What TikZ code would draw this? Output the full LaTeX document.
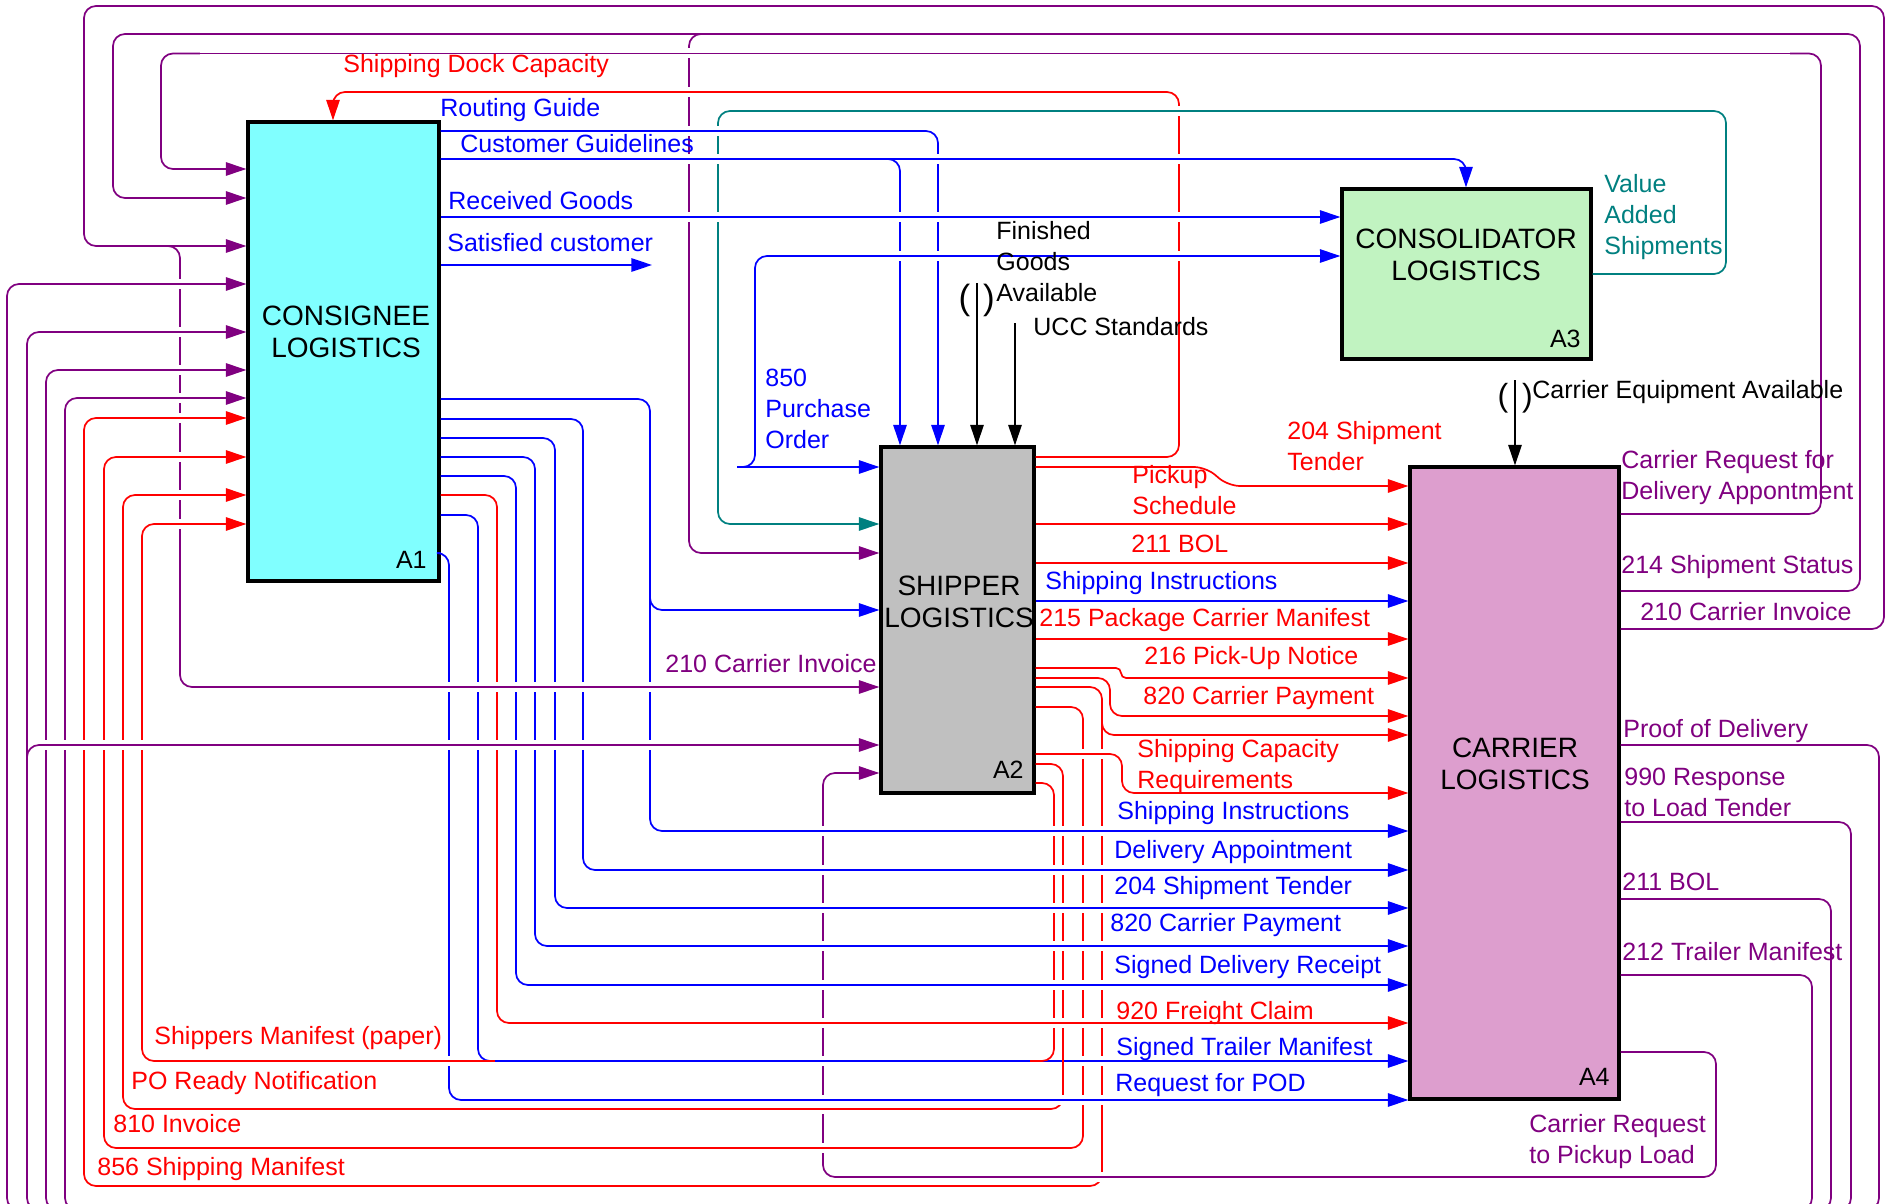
\documentclass[tikz,border=0pt]{standalone}
\usepackage{fontspec}
\setmainfont{Liberation Sans}
\usetikzlibrary{arrows.meta}
\definecolor{ipurple}{RGB}{128,0,128}
\definecolor{iblue}{RGB}{0,0,255}
\definecolor{ired}{RGB}{255,0,0}
\definecolor{iteal}{RGB}{0,128,128}
\definecolor{fillA}{RGB}{128,255,255}
\definecolor{fillB}{RGB}{192,192,192}
\definecolor{fillC}{RGB}{193,243,193}
\definecolor{fillD}{RGB}{221,158,206}
\newcommand\idefcut[4]{\draw[white,line width=5pt] (#2,#1) -- (#3,#1); \draw[#4] (#2,#1) -- (#3,#1);}
\tikzset{
  conn/.style={line width=0.85pt, rounded corners=6pt},
  tip/.style={-{Triangle[length=10.3pt,width=6.7pt]}},
  pu/.style={conn, draw=ipurple},
  bl/.style={conn, draw=iblue},
  rd/.style={conn, draw=ired},
  tl/.style={conn, draw=iteal},
  bk/.style={conn, draw=black},
  box/.style={draw=black, line width=1.6pt, inner sep=0pt},
  lbl/.style={font=\fontsize{12.5}{15.3}\selectfont, inner sep=0pt, anchor=base west, align=left},
  boxlbl/.style={font=\fontsize{14}{16}\selectfont, inner sep=0pt, anchor=base, align=center},
  boxnum/.style={font=\fontsize{12.5}{15}\selectfont, inner sep=0pt, anchor=base east},
  bigpar/.style={inner sep=0pt, anchor=base}
}
\begin{document}
\begin{tikzpicture}[x=0.5pt,y=-0.5pt]
\path[use as bounding box, fill=white] (0,0) rectangle (1886,1204);

% boxes
\node[box, fill=fillA, minimum width=95.5pt, minimum height=229.5pt] (A1) at (343.5,351.5) {};
\node[box, fill=fillB, minimum width=76.5pt, minimum height=173pt] (A2) at (957.5,620) {};
\node[box, fill=fillC, minimum width=124.5pt, minimum height=85pt] (A3) at (1466.5,274) {};
\node[box, fill=fillD, minimum width=104.5pt, minimum height=316pt] (A4) at (1514.5,783) {};

% purple feedback arrows
\draw[pu,tip] (A4.east |- 0,514) -| (1821,53.5) -| (161,169) -- (A1.west |- 0,169);
\draw[pu,tip] (A4.east |- 0,591) -| (1860,34) -| (113,198) -- (A1.west |- 0,198);
\draw[pu,tip] (720,34) -| (689,553) -- (A2.west |- 0,553);
\draw[pu,tip] (A4.east |- 0,629) -| (1884,6) -| (84,246) -- (A1.west |- 0,246);
\draw[pu,tip] (160,246) -| (180,687) -- (A2.west |- 0,687);
\draw[pu,tip] (A4.east |- 0,1052) -| (1716,1177) -| (823,773) -- (A2.west |- 0,773);
\draw[pu,tip] (A4.east |- 0,745) -| (1879,1210) -| (7,284) -- (A1.west |- 0,284);
\draw[pu,tip] (A4.east |- 0,822) -| (1851,1210) -| (27,332) -- (A1.west |- 0,332);
\draw[pu,tip] (27,775) |- (A2.west |- 0,745);
\draw[pu,tip] (A4.east |- 0,899) -| (1831,1210) -| (46,370) -- (A1.west |- 0,370);
\draw[pu,tip] (A4.east |- 0,975) -| (1812,1210) -| (65,398) -- (A1.west |- 0,398);

% blue from A1
\draw[bl,tip] (A1.east |- 0,131) -| (A2.north -| 938,0);
\draw[bl,tip] (A1.east |- 0,159) -| (A3.north -| 1466,0);
\draw[bl,tip] (880,159) -| (A2.north -| 900,0);
\draw[bl,tip] (A1.east |- 0,217) -- (A3.west |- 0,217);
\coordinate (satEnd) at (652,265);
\draw[bl,tip] (A1.east |- 0,265) -- (satEnd);
\coordinate (po) at (737,467);
\draw[bl,tip] (po) -- (A2.west |- 0,467);
\draw[bl,tip] (po) -| (755,256) -- (A3.west |- 0,256);
\draw[bl,tip] (A1.east |- 0,399) -| (650,831) -- (A4.west |- 0,831);
\draw[bl,tip] (650,590) |- (A2.west |- 0,610);
\draw[bl,tip] (A1.east |- 0,419) -| (583,870) -- (A4.west |- 0,870);
\draw[bl,tip] (A1.east |- 0,438) -| (555,908) -- (A4.west |- 0,908);
\draw[bl,tip] (A1.east |- 0,457) -| (535,946) -- (A4.west |- 0,946);
\draw[bl,tip] (A1.east |- 0,476) -| (516,985) -- (A4.west |- 0,985);
\draw[rd,tip] (A1.east |- 0,495) -| (497,1023) -- (A4.west |- 0,1023);
\draw[bl,tip] (A1.east |- 0,515) -| (478,1061) -- (A4.west |- 0,1061);
\draw[bl,tip] (A1.east |- 0,553) -| (449,1100) -- (A4.west |- 0,1100);

% red from A2
\draw[rd,tip] (A2.east |- 0,457) -| (1179,92) -| (A1.north -| 333,0);
\draw[rd,tip] (A2.east |- 0,467) -- (1206,467) -- (1228,486) -- (A4.west |- 0,486);
\draw[rd,tip] (A2.east |- 0,524) -- (A4.west |- 0,524);
\draw[rd,tip] (A2.east |- 0,563) -- (A4.west |- 0,563);
\draw[bl,tip] (A2.east |- 0,601) -- (A4.west |- 0,601);
\draw[rd,tip] (A2.east |- 0,639) -- (A4.west |- 0,639);
\draw[rd,tip,rounded corners=2.5pt] (A2.east |- 0,668) -| (1121,678) -- (A4.west |- 0,678);
\draw[rd,tip] (A2.east |- 0,678) -| (1110,716) -- (A4.west |- 0,716);
\draw[rd,tip] (A2.east |- 0,687) -| (1102,1186) -| (84,418) -- (A1.west |- 0,418);
\draw[rd,tip] (1102,715) |- (A4.west |- 0,735);
\draw[rd,tip] (A2.east |- 0,707) -| (1083,1148) -| (104,457) -- (A1.west |- 0,457);
\draw[rd,tip] (A2.east |- 0,754) -| (1122,793) -- (A4.west |- 0,793);
\draw[rd,tip] (A2.east |- 0,764) -| (1063,1109) -| (123,495) -- (A1.west |- 0,495);
\draw[rd,tip] (A2.east |- 0,783) -| (1054,1061) -| (142,524) -- (A1.west |- 0,524);

% teal
\draw[tl,tip] (A3.east |- 0,274) -| (1726,111) -| (718,524) -- (A2.west |- 0,524);

% black controls
\coordinate (fgaTop) at (977,283);
\draw[bk,tip] (fgaTop) -- (A2.north -| fgaTop);
\coordinate (uccTop) at (1015,323);
\draw[bk,tip] (uccTop) -- (A2.north -| uccTop);
\coordinate (ceaTop) at (1515,380);
\draw[bk,tip] (ceaTop) -- (A4.north -| ceaTop);

% crossing gaps
\idefcut{53.5}{200}{1790}{pu}
\idefcut{92}{360}{1160}{rd}
\idefcut{111}{740}{1705}{tl}
\idefcut{131}{450}{915}{bl}
\idefcut{159}{450}{880}{bl}
\idefcut{159}{915}{1445}{bl}
\idefcut{217}{450}{1320}{bl}
\idefcut{256}{775}{1320}{bl}
\idefcut{284}{168}{192}{pu}
\idefcut{332}{168}{192}{pu}
\idefcut{370}{168}{192}{pu}
\idefcut{398}{168}{192}{pu}
\idefcut{418}{168}{192}{rd}
\idefcut{457}{168}{192}{rd}
\idefcut{495}{168}{192}{rd}
\idefcut{524}{168}{192}{rd}
\idefcut{687}{200}{855}{pu}
\idefcut{745}{40}{855}{pu}
\idefcut{754}{1045}{1108}{rd}
\idefcut{831}{670}{1385}{bl}
\idefcut{870}{600}{1385}{bl}
\idefcut{908}{575}{1385}{bl}
\idefcut{946}{555}{1385}{bl}
\idefcut{985}{535}{1385}{bl}
\idefcut{1023}{515}{1385}{rd}
\idefcut{1061}{160}{466}{rd}
\idefcut{1061}{495}{1030}{bl}
\idefcut{1061}{1070}{1385}{bl}
\idefcut{1100}{470}{1385}{bl}
\idefcut{1109}{140}{1045}{rd}
\idefcut{1148}{120}{1065}{rd}
\idefcut{1177}{1090}{1115}{pu}

% box texts (anchor base = last line)
\node[boxlbl] (A1t) at (346,357) {CONSIGNEE\\LOGISTICS};
\node[boxlbl] (A2t) at (959,627) {SHIPPER\\LOGISTICS};
\node[boxlbl] (A3t) at (1466,280) {CONSOLIDATOR\\LOGISTICS};
\node[boxlbl] (A4t) at (1515,789) {CARRIER\\LOGISTICS};
\node[boxnum] (A1n) at (427,568) {A1};
\node[boxnum] (A2n) at (1024,778) {A2};
\node[boxnum] (A3n) at (1581,347) {A3};
\node[boxnum] (A4n) at (1610,1085) {A4};

% red labels
\node[lbl,text=ired] (lShipDock) at (343,73) {Shipping Dock Capacity};
\node[lbl,text=ired] (l204a) at (1287,470) {204 Shipment\\Tender};
\node[lbl,text=ired] (lPickup) at (1132,514) {Pickup\\Schedule};
\node[lbl,text=ired] (l211) at (1131,552) {211 BOL};
\node[lbl,text=ired] (l215) at (1039,626) {215 Package Carrier Manifest};
\node[lbl,text=ired] (l216) at (1144,664) {216 Pick-Up Notice};
\node[lbl,text=ired] (l820r) at (1143,704) {820 Carrier Payment};
\node[lbl,text=ired] (lShipCap) at (1137,788) {Shipping Capacity\\Requirements};
\node[lbl,text=ired] (l920) at (1116,1019) {920 Freight Claim};
\node[lbl,text=ired] (lShMan) at (154,1044) {Shippers Manifest (paper)};
\node[lbl,text=ired] (lPORdy) at (131,1089) {PO Ready Notification};
\node[lbl,text=ired] (l810) at (113,1132) {810 Invoice};
\node[lbl,text=ired] (l856) at (97,1175) {856 Shipping Manifest};

% blue labels
\node[lbl,text=iblue] (lRout) at (440,117) {Routing Guide};
\node[lbl,text=iblue] (lCust) at (460,153) {Customer Guidelines};
\node[lbl,text=iblue] (lRecv) at (448,209) {Received Goods};
\node[lbl,text=iblue] (lSat) at (447,251) {Satisfied customer};
\node[lbl,text=iblue] (l850) at (765,448) {850\\Purchase\\Order};
\node[lbl,text=iblue] (lShInA) at (1045,589) {Shipping Instructions};
\node[lbl,text=iblue] (lShInB) at (1117,819) {Shipping Instructions};
\node[lbl,text=iblue] (lDelAp) at (1114,858) {Delivery Appointment};
\node[lbl,text=iblue] (l204b) at (1114,894) {204 Shipment Tender};
\node[lbl,text=iblue] (l820b) at (1110,931) {820 Carrier Payment};
\node[lbl,text=iblue] (lSDR) at (1114,973) {Signed Delivery Receipt};
\node[lbl,text=iblue] (lSTM) at (1116,1055) {Signed Trailer Manifest};
\node[lbl,text=iblue] (lPOD) at (1115,1091) {Request for POD};

% purple labels
\node[lbl,text=ipurple] (l210a) at (665,672) {210 Carrier Invoice};
\node[lbl,text=ipurple] (lCRDA) at (1621,499) {Carrier Request for\\Delivery Appontment};
\node[lbl,text=ipurple] (l214) at (1621,573) {214 Shipment Status};
\node[lbl,text=ipurple] (l210b) at (1640,620) {210 Carrier Invoice};
\node[lbl,text=ipurple] (lPoD) at (1623,737) {Proof of Delivery};
\node[lbl,text=ipurple] (l990) at (1624,816) {990 Response\\to Load Tender};
\node[lbl,text=ipurple] (l211p) at (1622,890) {211 BOL};
\node[lbl,text=ipurple] (l212) at (1622,960) {212 Trailer Manifest};
\node[lbl,text=ipurple] (lCRPL) at (1529,1163) {Carrier Request\\to Pickup Load};

% teal label
\node[lbl,text=iteal] (lVAS) at (1604,254) {Value\\Added\\Shipments};

% black labels
\node[lbl] (lFGA) at (996,301) {Finished\\Goods\\Available};
\node[lbl] (lUCC) at (1033,335) {UCC Standards};
\node[lbl] (lCEA) at (1532,398) {Carrier Equipment Available};
\node[bigpar,font=\fontsize{17.5}{18}\selectfont] (fgaL) at (964.5,309) {(};
\node[bigpar,font=\fontsize{17.5}{18}\selectfont] (fgaR) at (989,309) {)};
\node[bigpar,font=\fontsize{16}{17}\selectfont] (ceaL) at (1503,406) {(};
\node[bigpar,font=\fontsize{16}{17}\selectfont] (ceaR) at (1527.5,406) {)};
\end{tikzpicture}
\end{document}
